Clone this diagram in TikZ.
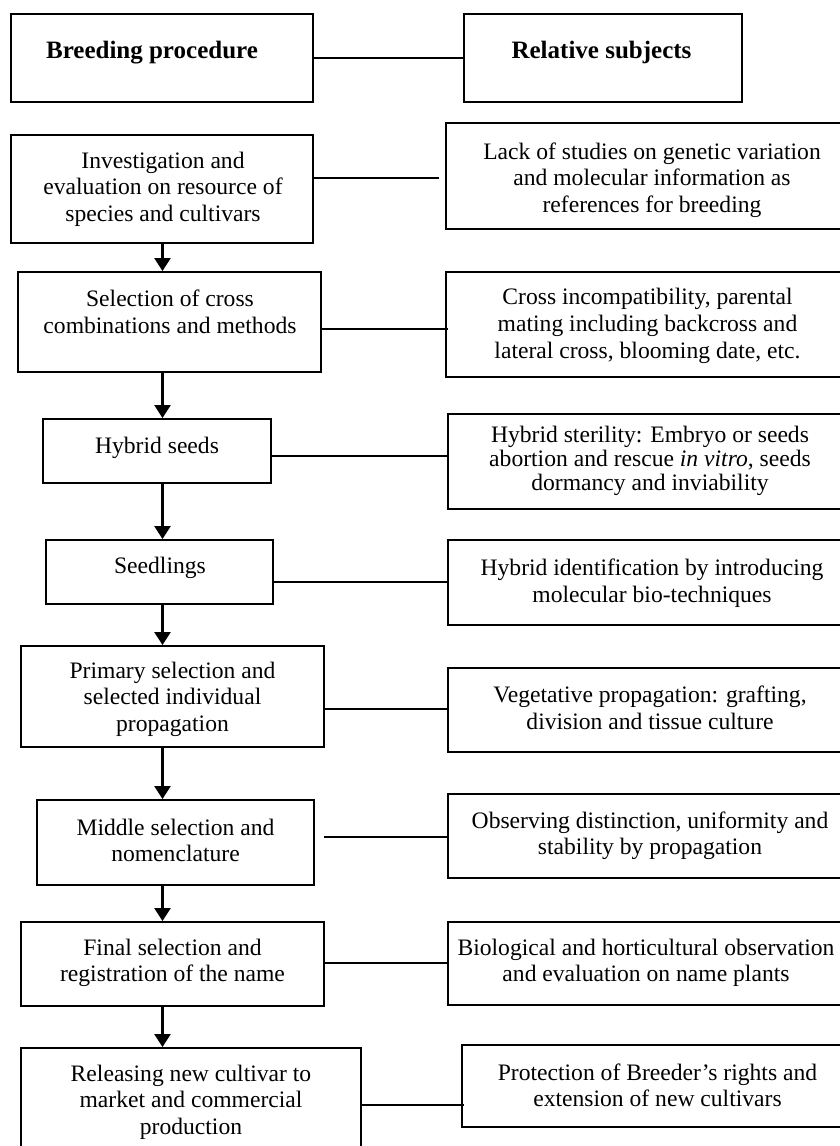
\documentclass[tikz,border=0pt]{standalone}
\usepackage{fontspec}
\setmainfont{Liberation Serif}
\usetikzlibrary{arrows.meta}
\begin{document}
\begin{tikzpicture}[x=1pt,y=-1pt,
  box/.style={draw, line width=1.9pt, inner sep=0pt, rectangle},
  txt/.style={align=center, inner sep=0pt, font=\fontsize{23.6}{26.7}\selectfont},
  tighttxt/.style={align=center, inner sep=0pt, font=\fontsize{23.6}{24}\selectfont},
  head/.style={inner sep=0pt, anchor=base, font=\fontsize{25}{28}\selectfont\bfseries},
  link/.style={line width=1.9pt},
  flow/.style={line width=2.4pt, -{Triangle[width=16pt,length=13pt]}}]
\useasboundingbox (0,0) rectangle (840,1146);
\clip (0,0) rectangle (840,1146);

% column headings
\node[box, minimum width=302pt, minimum height=88pt] (hL) at (162,58) {};
\node[box, minimum width=278pt, minimum height=88pt] (hR) at (603,58) {};
\node[head] (hLt) at (152,58) {Breeding procedure};
\node[head] (hRt) at (601.5,58) {Relative subjects};

% breeding procedure steps
\node[box, minimum width=302pt, minimum height=108pt] (L1) at (162,189) {};
\node[box, minimum width=303pt, minimum height=100pt] (L2) at (169.5,322) {};
\node[box, minimum width=228pt, minimum height=64pt]  (L3) at (157,451) {};
\node[box, minimum width=227pt, minimum height=64pt]  (L4) at (159.5,572) {};
\node[box, minimum width=303pt, minimum height=101pt] (L5) at (172.5,696.5) {};
\node[box, minimum width=277pt, minimum height=85pt]  (L6) at (175.5,842.5) {};
\node[box, minimum width=303pt, minimum height=84pt]  (L7) at (172.5,964) {};
\node[box, minimum width=340pt, minimum height=110pt] (L8) at (191,1103) {};

\node[txt] (L1t) at (163,189.4) {\strut Investigation and\\evaluation on resource of\\species and cultivars\strut};
\node[txt] (L2t) at (170,315) {\strut Selection of cross\\combinations and methods\strut};
\node[txt] (L3t) at (157,447.7) {\strut Hybrid seeds\strut};
\node[txt] (L4t) at (160,567.7) {\strut Seedlings\strut};
\node[txt] (L5t) at (172.5,699.4) {\strut Primary selection and\\selected individual\\propagation\strut};
\node[txt] (L6t) at (175.5,843) {\strut Middle selection and\\nomenclature\strut};
\node[txt] (L7t) at (172.5,963) {\strut Final selection and\\registration of the name\strut};
\node[txt] (L8t) at (191,1102.4) {\strut Releasing new cultivar to\\market and commercial\\production\strut};

% relative subjects
\node[box, minimum width=412pt, minimum height=106pt] (R1) at (652,176) {};
\node[box, minimum width=412pt, minimum height=105pt] (R2) at (652,324.5) {};
\node[box, minimum width=410pt, minimum height=95pt]  (R3) at (653,461.5) {};
\node[box, minimum width=410pt, minimum height=85pt]  (R4) at (653,582.5) {};
\node[box, minimum width=410pt, minimum height=84pt]  (R5) at (653,710) {};
\node[box, minimum width=410pt, minimum height=84pt]  (R6) at (653,836) {};
\node[box, minimum width=410pt, minimum height=83pt]  (R7) at (653,963.5) {};
\node[box, minimum width=396pt, minimum height=82pt]  (R8) at (660,1086) {};

\node[txt] (R1t) at (652,180.4) {\strut Lack of studies on genetic variation\\and molecular information as\\references for breeding\strut};
\node[txt] (R2t) at (647.5,326) {\strut Cross incompatibility, parental\\mating including backcross and\\lateral cross, blooming date, etc.\strut};
\node[tighttxt] (R3t) at (650,462) {\strut Hybrid sterility: Embryo or seeds\\abortion and rescue \textit{in vitro}, seeds\\dormancy and inviability\strut};
\node[txt] (R4t) at (652,584) {\strut Hybrid identification by introducing\\molecular bio-techniques\strut};
\node[txt] (R5t) at (650,711) {\strut Vegetative propagation: grafting,\\division and tissue culture\strut};
\node[txt] (R6t) at (650,836) {\strut Observing distinction, uniformity and\\stability by propagation\strut};
\node[txt] (R7t) at (646,963) {\strut Biological and horticultural observation\\and evaluation on name plants\strut};
\node[txt] (R8t) at (657.5,1088) {\strut Protection of Breeder’s rights and\\extension of new cultivars\strut};

% links between the two columns
\draw[link] (hL.east) -- (hR.west);
\draw[link] (L1.east |- 0,178) -- ([xshift=-6pt]R1.west |- 0,178);
\draw[link] (L2.east |- 0,329) -- ([xshift=3pt]R2.west |- 0,329);
\draw[link] (L3.east |- 0,456) -- (R3.west |- 0,456);
\draw[link] (L4.east |- 0,582) -- (R4.west |- 0,582);
\draw[link] (L5.east |- 0,709) -- (R5.west |- 0,709);
\draw[link] ([xshift=9pt]L6.east |- 0,837) -- (R6.west |- 0,837);
\draw[link] (L7.east |- 0,963) -- (R7.west |- 0,963);
\draw[link] (L8.east |- 0,1105) -- ([xshift=3pt]R8.west |- 0,1105);

% flow of the procedure
\coordinate (ax) at (162.5,0);
\draw[flow] (L1.south -| ax) -- (L2.north -| ax);
\draw[flow] (L2.south -| ax) -- (L3.north -| ax);
\draw[flow] (L3.south -| ax) -- (L4.north -| ax);
\draw[flow] (L4.south -| ax) -- (L5.north -| ax);
\draw[flow] (L5.south -| ax) -- (L6.north -| ax);
\draw[flow] (L6.south -| ax) -- (L7.north -| ax);
\draw[flow] (L7.south -| ax) -- (L8.north -| ax);
\end{tikzpicture}
\end{document}
